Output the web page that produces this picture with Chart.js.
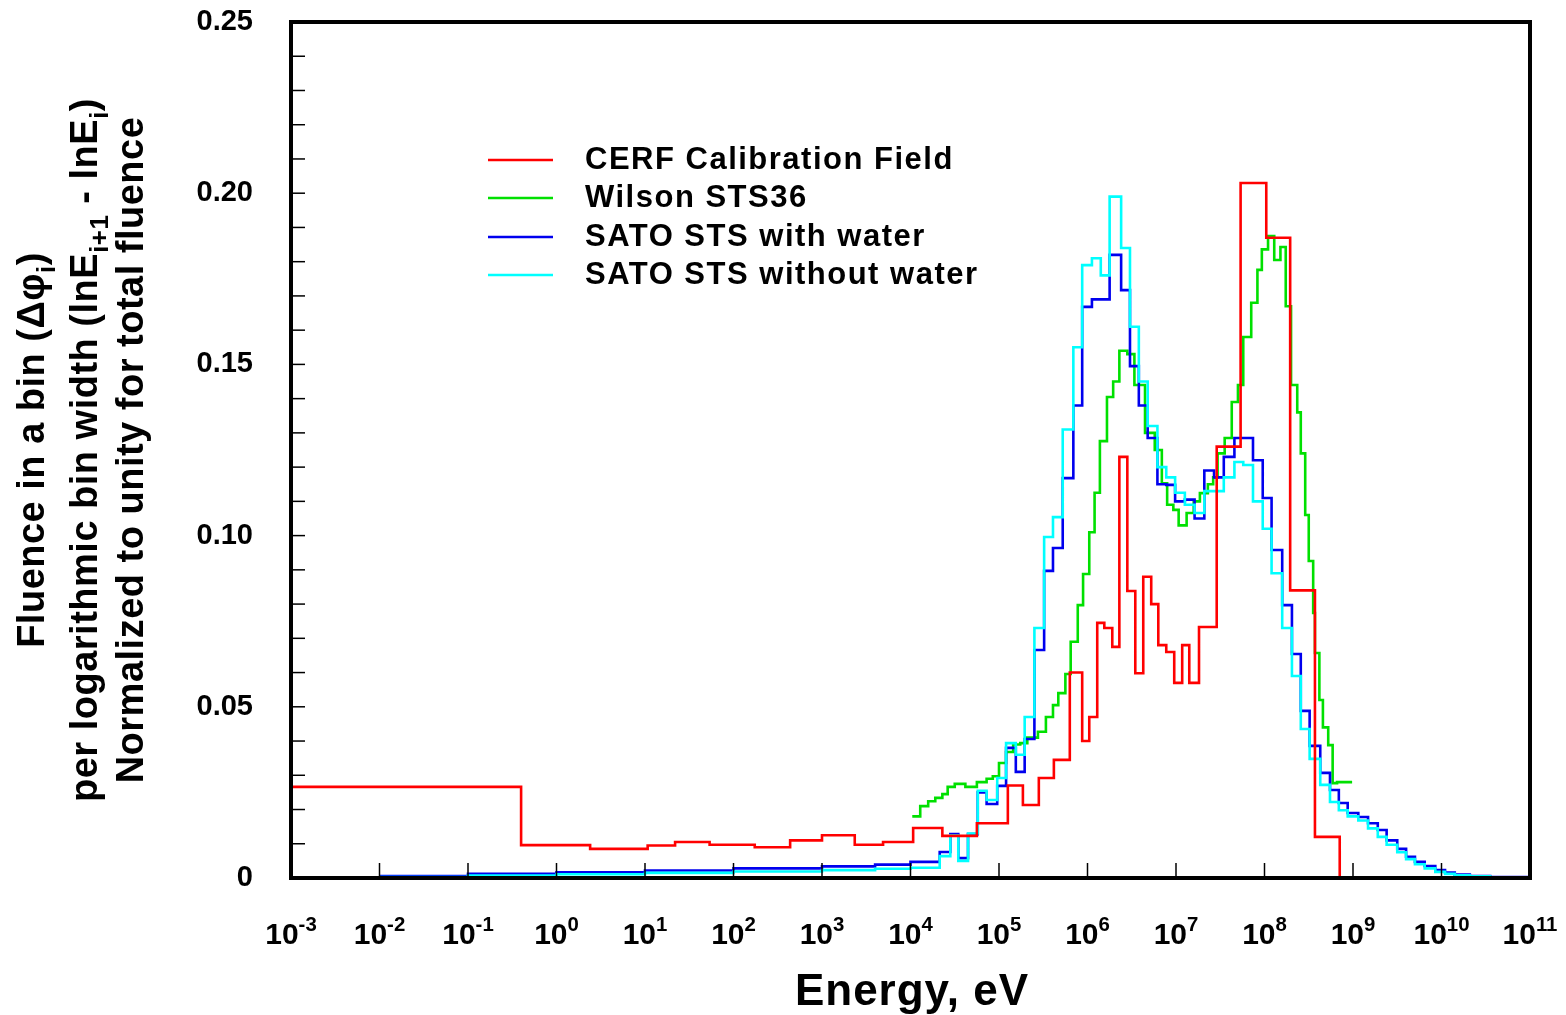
<!DOCTYPE html>
<html lang="en">
<head>
  <meta charset="UTF-8">
  <title>Fluence spectra</title>
  <script src="https://cdn.jsdelivr.net/npm/chart.js"></script>
  <style>
    body { margin: 0; padding: 0; background: #fff; }
    #wrap { width: 1566px; height: 1015px; }
  </style>
</head>
<body>
  <div id="wrap"><canvas id="chart"></canvas></div>

  <script>
    // bin edges are log10(E / eV); values are fluence per log bin width
    const cerfEdges = [-3.00, -0.40, 0.38, 1.03, 1.34, 1.73, 2.24, 2.64, 3.00, 3.37, 3.69, 4.03, 4.36, 4.75, 5.10,
      5.27, 5.45, 5.62, 5.80, 5.94, 6.02, 6.11, 6.19, 6.28, 6.36, 6.45, 6.54, 6.63, 6.72, 6.80, 6.89, 6.98,
      7.07, 7.15, 7.26, 7.46, 7.73, 8.02, 8.29, 8.57, 8.85];
    const cerfValues = [0.0266, 0.0096, 0.0085, 0.0095, 0.0105, 0.0097, 0.009, 0.011, 0.0125, 0.0097, 0.0105,
      0.0146, 0.0123, 0.016, 0.027, 0.0213, 0.0292, 0.0345, 0.060, 0.040, 0.047, 0.0745, 0.073, 0.0675, 0.123,
      0.0838, 0.0598, 0.088, 0.080, 0.068, 0.066, 0.057, 0.068, 0.057, 0.0733, 0.126, 0.203, 0.187, 0.084, 0.012];

    const wilsonEdges = [4.02, 4.11, 4.20, 4.28, 4.36, 4.42, 4.50, 4.62, 4.75, 4.86, 4.93, 5.00, 5.08, 5.16, 5.24,
      5.32, 5.44, 5.53, 5.61, 5.67, 5.75, 5.81, 5.89, 5.95, 6.02, 6.08, 6.14, 6.22, 6.29, 6.36, 6.45, 6.53, 6.65,
      6.76, 6.84, 6.90, 6.97, 7.03, 7.12, 7.20, 7.27, 7.36, 7.42, 7.47, 7.55, 7.63, 7.70, 7.76, 7.85, 7.92, 7.97,
      8.04, 8.11, 8.18, 8.24, 8.30, 8.37, 8.41, 8.46, 8.50, 8.55, 8.57, 8.62, 8.66, 8.72, 8.77, 8.82, 8.99];
    const wilsonValues = [0.018, 0.021, 0.0224, 0.0234, 0.0245, 0.0266, 0.0275, 0.0266, 0.028, 0.029, 0.0297,
      0.0336, 0.0368, 0.039, 0.0394, 0.041, 0.0427, 0.047, 0.0505, 0.054, 0.0596, 0.069, 0.0797, 0.0888, 0.101,
      0.1125, 0.1276, 0.1405, 0.145, 0.154, 0.153, 0.144, 0.130, 0.125, 0.1153, 0.109, 0.1075, 0.103, 0.1066,
      0.11, 0.1124, 0.115, 0.117, 0.124, 0.1285, 0.139, 0.144, 0.158, 0.168, 0.1776, 0.1836, 0.1875, 0.1805,
      0.1843, 0.167, 0.144, 0.136, 0.124, 0.106, 0.0926, 0.0774, 0.0657, 0.052, 0.044, 0.0388, 0.0277, 0.028];

    const satoEdges = [-2.0, -1.0, 0.0, 1.0, 2.0, 3.0, 3.6, 4.0, 4.33, 4.45, 4.54, 4.65, 4.76, 4.86, 4.98, 5.08,
      5.19, 5.29, 5.40, 5.51, 5.61, 5.72, 5.84, 5.94, 6.05, 6.15, 6.25, 6.38, 6.48, 6.58, 6.68, 6.79, 6.89, 6.99,
      7.10, 7.21, 7.32, 7.43, 7.54, 7.66, 7.76, 7.87, 7.98, 8.08, 8.20, 8.31, 8.41, 8.51, 8.63, 8.74, 8.84, 8.94,
      9.06, 9.17, 9.28, 9.38, 9.50, 9.60, 9.70, 9.81, 9.93, 10.04, 10.15, 10.32, 10.55, 11.0];
    const satoWaterValues = [0.0006, 0.0012, 0.0017, 0.0022, 0.0028, 0.0034, 0.0039, 0.0047,
      0.0076, 0.0128, 0.0058, 0.0128, 0.025, 0.0216, 0.0269, 0.038, 0.031, 0.0406,
      0.0666, 0.0897, 0.0964, 0.1168, 0.138, 0.1668, 0.169, 0.169, 0.182, 0.1717,
      0.1495, 0.138, 0.1285, 0.115, 0.1148, 0.110, 0.1105, 0.105, 0.119, 0.117,
      0.123, 0.1285, 0.1285, 0.122, 0.111, 0.0958, 0.0797, 0.0654, 0.0488, 0.0386,
      0.0307, 0.0257, 0.0219, 0.019, 0.0178, 0.016, 0.014, 0.011, 0.0085, 0.0062,
      0.0047, 0.0035, 0.0023, 0.0016, 0.001, 0.0006, 0.0003];
    const satoDryValues = [0.0003, 0.0007, 0.0011, 0.0015, 0.0019, 0.0023, 0.0027, 0.003,
      0.0064, 0.0125, 0.005, 0.013, 0.0255, 0.0228, 0.0292, 0.0394, 0.036, 0.047,
      0.073, 0.0996, 0.1054, 0.131, 0.155, 0.179, 0.181, 0.176, 0.199, 0.184,
      0.161, 0.145, 0.132, 0.12, 0.117, 0.1125, 0.109, 0.1066, 0.113, 0.113,
      0.117, 0.1215, 0.1206, 0.11, 0.102, 0.089, 0.073, 0.059, 0.0435, 0.0348,
      0.0272, 0.0222, 0.0198, 0.018, 0.0168, 0.0145, 0.012, 0.0097, 0.0075, 0.0055,
      0.004, 0.0028, 0.0018, 0.0012, 0.0008, 0.0005, 0.0002];

    const xTicks = [-3, -2, -1, 0, 1, 2, 3, 4, 5, 6, 7, 8, 9, 10, 11];
    const yTickLabels = ['0', '0.05', '0.10', '0.15', '0.20', '0.25'];
    const seriesNames = ['CERF Calibration Field', 'Wilson STS36', 'SATO STS with water', 'SATO STS without water'];
    const seriesColors = ['#ff0000', '#00e000', '#0000ee', '#00ffff'];

    // histogram: each value held flat from its edge to the next one
    function steps(edges, values, dropToZero) {
      const pts = values.map((v, i) => ({ x: edges[i], y: v }));
      pts.push({ x: edges[edges.length - 1], y: values[values.length - 1] });
      if (dropToZero) pts.push({ x: edges[edges.length - 1], y: 0 });
      return pts;
    }

    function ds(i, data, order) {
      return {
        label: seriesNames[i], data: data, borderColor: seriesColors[i],
        borderWidth: 2.6, pointRadius: 0, showLine: true, stepped: 'before', order: order
      };
    }

    const BOLD = 'bold ';
    const FAM = '"Liberation Sans", Arial, sans-serif';

    // text with sub/superscript pieces
    function richWidth(ctx, parts, size) {
      let w = 0;
      parts.forEach(p => {
        ctx.font = BOLD + (p.s ? size * 0.68 : size) + 'px ' + FAM;
        w += ctx.measureText(p.t).width;
      });
      return w;
    }
    function drawRich(ctx, parts, x, y, size) {
      let cx = x;
      parts.forEach(p => {
        const sz = p.s ? size * 0.68 : size;
        ctx.font = BOLD + sz + 'px ' + FAM;
        const dy = p.s === 'sub' ? size * 0.28 : (p.s === 'sup' ? -size * 0.42 : 0);
        ctx.fillText(p.t, cx, y + dy);
        cx += ctx.measureText(p.t).width;
      });
    }

    const decorations = {
      id: 'decorations',
      afterDatasetsDraw(chart) {
        const { ctx, chartArea: a, scales } = chart;
        const xs = scales.x, ys = scales.y;
        ctx.save();
        ctx.fillStyle = '#000';
        ctx.strokeStyle = '#000';

        // ticks
        ctx.lineWidth = 1.5;
        for (let k = 0; k <= 25; k++) {
          const py = ys.getPixelForValue(k * 0.01);
          ctx.beginPath(); ctx.moveTo(a.left, py); ctx.lineTo(a.left + 14, py); ctx.stroke();
        }
        xTicks.forEach(t => {
          const px = xs.getPixelForValue(t);
          ctx.beginPath(); ctx.moveTo(px, a.bottom); ctx.lineTo(px, a.bottom - 15); ctx.stroke();
        });

        // frame
        ctx.lineWidth = 4;
        ctx.strokeRect(a.left, a.top, a.right - a.left, a.bottom - a.top);

        // y tick labels
        ctx.font = BOLD + '29px ' + FAM;
        ctx.textAlign = 'right';
        ctx.textBaseline = 'middle';
        yTickLabels.forEach((lab, i) => {
          ctx.fillText(lab, 253, ys.getPixelForValue(i * 0.05));
        });

        // x tick labels 10^n
        ctx.textAlign = 'left';
        ctx.textBaseline = 'alphabetic';
        xTicks.forEach(t => {
          const parts = [{ t: '10' }, { t: String(t), s: 'sup' }];
          const w = richWidth(ctx, parts, 30);
          drawRich(ctx, parts, xs.getPixelForValue(t) - w / 2, 944, 30);
        });

        // x title
        ctx.font = BOLD + '44px ' + FAM;
        ctx.textAlign = 'center';
        ctx.letterSpacing = '1px';
        ctx.fillText('Energy, eV', 912, 1005);

        // y title, three rotated lines
        const lines = [
          { x: 44, parts: [{ t: 'Fluence in a bin (Δφ' }, { t: 'i', s: 'sub' }, { t: ')' }] },
          { x: 97, parts: [{ t: 'per logarithmic bin width (lnE' }, { t: 'i+1', s: 'sub' }, { t: ' - lnE' }, { t: 'i', s: 'sub' }, { t: ')' }] },
          { x: 143, parts: [{ t: 'Normalized to unity for total fluence' }] }
        ];
        ctx.textAlign = 'left';
        ctx.letterSpacing = '0.5px';
        lines.forEach(l => {
          ctx.save();
          ctx.translate(l.x, 450);
          ctx.rotate(-Math.PI / 2);
          const w = richWidth(ctx, l.parts, 38);
          drawRich(ctx, l.parts, -w / 2, 0, 38);
          ctx.restore();
        });

        // legend
        const legY = [160, 198, 237, 275];
        seriesNames.forEach((name, i) => {
          ctx.strokeStyle = seriesColors[i];
          ctx.lineWidth = 2.6;
          ctx.beginPath(); ctx.moveTo(488, legY[i]); ctx.lineTo(553, legY[i]); ctx.stroke();
          ctx.font = BOLD + '31px ' + FAM;
          ctx.textBaseline = 'middle';
          ctx.letterSpacing = '1.5px';
          ctx.fillText(name, 585, legY[i]);
        });
        ctx.restore();
      }
    };

    new Chart(document.getElementById('chart').getContext('2d'), {
      type: 'scatter',
      data: {
        datasets: [
          ds(0, steps(cerfEdges, cerfValues, true), 0),
          ds(3, steps(satoEdges, satoDryValues, false), 1),
          ds(2, steps(satoEdges, satoWaterValues, false), 2),
          ds(1, steps(wilsonEdges, wilsonValues, false), 3)
        ]
      },
      options: {
        responsive: true,
        maintainAspectRatio: false,
        animation: false,
        layout: { padding: { left: 291, right: 36, top: 22, bottom: 137 } },
        plugins: { legend: { display: false }, tooltip: { enabled: false } },
        scales: {
          x: { type: 'linear', min: -3, max: 11, display: false },
          y: { min: 0, max: 0.25, display: false }
        }
      },
      plugins: [decorations]
    });
  </script>
</body>
</html>
